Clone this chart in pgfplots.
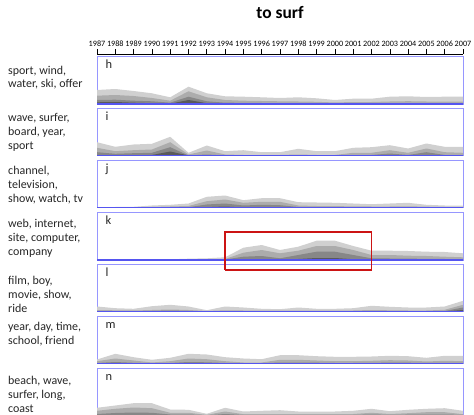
\documentclass[border=0pt]{standalone}
\usepackage{pgfplots}
\pgfplotsset{compat=1.18}
\usepackage{pgfplotstable}
\usepackage{fontspec}
\setmainfont{Carlito}
\definecolor{frameblue}{RGB}{150,150,255}
\definecolor{bottomblue}{RGB}{85,85,240}
\definecolor{layA}{RGB}{208,208,208}
\definecolor{layB}{RGB}{172,172,172}
\definecolor{layC}{RGB}{135,135,135}
\definecolor{layD}{RGB}{90,90,90}
\definecolor{redbox}{RGB}{204,20,20}

\pgfplotstableread{
year a b c d
1987 14 8.3 4 1.7
1988 15 9 4.3 2
1989 13 8 3.3 1.3
1990 10.7 6 2.7 0.8
1991 6.7 3.3 1.3 0.3
1992 17.3 12.7 7.3 4
1993 10.7 6.7 2.7 0.8
1994 7.7 4 1.3 0.3
1995 7.3 3.3 1.2 0.2
1996 6.7 3 1 0
1997 6 2.7 1 0
1998 6.7 2.5 0.8 0
1999 5.7 2.2 0.8 0
2000 4 1.5 0.5 0
2001 5.3 2 0.8 0
2002 5.3 2 0.8 0
2003 7.3 2.5 1 0
2004 7.7 2.8 1 0
2005 7 2.5 1 0
2006 7.3 2.5 1 0
2007 7.3 2.5 1 0
}\tabh

\pgfplotstableread{
year a b c d
1987 13.3 7.7 3.3 0.5
1988 8.7 4.3 1.7 0
1989 11 5.3 2.3 0
1990 11.7 6 2.7 0.5
1991 18.7 13.3 8.3 4
1992 2.7 1 0 0
1993 10 5 1 0
1994 4.3 1 0 0
1995 5.3 0.5 0 0
1996 3.3 0.5 0 0
1997 3.3 0.5 0 0
1998 6.7 1 0 0
1999 4.3 0.5 0 0
2000 4.3 0.5 0 0
2001 7.7 2.7 0.5 0
2002 8.3 2.7 0.5 0
2003 10.3 5.3 2 0
2004 7 2.7 0.5 0
2005 12 7 3.3 0
2006 8.7 3.3 0.5 0
2007 8.7 2.7 0.5 0
}\tabi

\pgfplotstableread{
year a b c d
1987 0.5 0 0 0
1988 0.5 0 0 0
1989 0.7 0 0 0
1990 2 0.5 0 0
1991 2.7 1 0 0
1992 4 1.5 0.3 0
1993 10.7 6.3 3 0.3
1994 12 8 4 1
1995 7.3 4.7 2 0
1996 9.3 5.7 2.7 0
1997 9.3 5.7 2.3 0
1998 5.3 2 0.5 0
1999 5 1.5 0.3 0
2000 4.7 1.3 0.3 0
2001 4 1.2 0.3 0
2002 3.3 1 0.3 0
2003 4 1 0.3 0
2004 4.7 1.2 0.3 0
2005 2.7 0.8 0 0
2006 2 0.5 0 0
2007 2 0.5 0 0
}\tabj

\pgfplotstableread{
year a b c d
1987 0 0 0 0
1988 0 0 0 0
1989 0 0 0 0
1990 0.3 0 0 0
1991 0.7 0.3 0 0
1992 1.3 0.5 0 0
1993 1.7 0.7 0.3 0
1994 2.7 1 0.5 0
1995 12.3 7.3 3.3 0.5
1996 15 10 4 1
1997 10 6.7 1.7 0
1998 13.3 9.3 5 1
1999 19.3 14 8.3 2
2000 19.3 14 8.3 2
2001 14 10 5 0.8
2002 9.3 5 1.7 0
2003 9.3 5 1.5 0
2004 9 4.3 1.3 0
2005 8.3 4 1.2 0
2006 8 3.3 1 0
2007 6.7 2.7 1 0
}\tabk

\pgfplotstableread{
year a b c d
1987 5 1.5 0.5 0
1988 3.3 1.2 0.3 0
1989 2.7 1 0.3 0
1990 5.3 1.5 0.5 0
1991 6.7 2 1 0
1992 5 1.5 0.5 0
1993 1.3 0.5 0 0
1994 5 1.2 0.3 0
1995 4 1 0.3 0
1996 2.7 0.8 0 0
1997 2.3 0.8 0 0
1998 4 1 0.3 0
1999 2.7 0.8 0 0
2000 2.7 0.8 0 0
2001 3.3 1 0.3 0
2002 5.7 1.5 0.5 0
2003 4.7 1.2 0.3 0
2004 4 1 0.3 0
2005 4 1 0.3 0
2006 5 1.7 0.5 0
2007 10.7 6.7 4 1.5
}\tabl

\pgfplotstableread{
year a b c d
1987 4 2.3 0.5 0
1988 9.7 5 1.5 0
1989 6.3 3 0.7 0
1990 3.7 1 0.2 0
1991 5.7 2.3 0.5 0
1992 9.7 5 1.5 0
1993 9 4.3 1.2 0
1994 6.3 2.3 0.5 0
1995 5 1 0.2 0
1996 4.3 1 0.2 0
1997 8.3 3.7 1 0
1998 8.3 3.7 1 0
1999 7.3 3 0.8 0
2000 6.7 2.3 0.5 0
2001 6.7 2.3 0.5 0
2002 7 2.7 0.7 0
2003 7.7 3.3 0.8 0
2004 7.3 3 0.8 0
2005 5.7 2 0.5 0
2006 7.7 2.7 0.7 0
2007 7.7 2.3 0.5 0
}\tabm

\pgfplotstableread{
year a b c d
1987 7.7 4.7 1.5 0
1988 10 6.7 2.5 0
1989 12.3 8 3 0
1990 12.3 7.3 2.7 0
1991 6 2.7 1 0
1992 5.7 2.7 1 0
1993 1.7 0.7 0.2 0
1994 7.7 4 1.5 0
1995 4 1.3 0.5 0
1996 4.7 1.5 0.5 0
1997 5.3 1.5 0.5 0
1998 4 1.3 0.5 0
1999 4 1.3 0.5 0
2000 4 1.3 0.5 0
2001 4.7 1.5 0.5 0
2002 6.7 2.7 1 0
2003 4.3 1.5 0.5 0
2004 5.7 2.3 0.8 0
2005 6.7 3.3 1 0
2006 7.3 3.3 1 0
2007 4.7 1.3 0.5 0
}\tabn

\pgfplotsset{
  panel/.style={width=366bp, height=47.5bp, scale only axis,
    xmin=1987, xmax=2007, ymin=0, ymax=47.5,
    xtick=\empty, ytick=\empty, clip=false,
    axis line style={draw=frameblue, line width=0.8bp},
    anchor=north west},
}
\newcommand{\layers}[1]{%
  \addplot[fill=layA, draw=none] table[x=year, y=a]{#1} \closedcycle;
  \addplot[fill=layB, draw=none] table[x=year, y=b]{#1} \closedcycle;
  \addplot[fill=layC, draw=none] table[x=year, y=c]{#1} \closedcycle;
  \addplot[fill=layD, draw=none] table[x=year, y=d]{#1} \closedcycle;
}
\newcommand{\bottomline}{%
  \addplot[draw=bottomblue, line width=1.3bp, mark=none] coordinates {(1987,0) (2007,0)};
}
\newcommand{\letter}[1]{%
  \node[anchor=base west, font=\fontsize{12.5}{12.5}\selectfont, text=black!85, xshift=5bp, yshift=-12bp] at (rel axis cs:0,1) {#1};
}

\begin{document}
\begin{tikzpicture}
\path (0,0) rectangle (474bp,-415bp);

% title
\node[font=\bfseries\fontsize{17.5}{17.5}\selectfont] at (280bp,-12.5bp) {to surf};

% top year axis
\begin{axis}[at={(97bp,-54.3bp)}, anchor=north west,
  width=366bp, height=10bp, scale only axis,
  xmin=1987, xmax=2007, ymin=0, ymax=1,
  axis x line=top, axis y line=none,
  x axis line style={-, black, line width=0.6bp},
  xtick={1987,1988,...,2007}, ytick=\empty,
  tick align=outside, major tick length=5bp,
  xtick style={black, line width=0.6bp},
  xticklabel style={font=\fontsize{8.2}{8.5}\selectfont, yshift=1bp, inner sep=1.5bp},
  /pgf/number format/assume math mode=true,
  /pgf/number format/1000 sep={}]
\end{axis}

% h
\begin{axis}[panel, at={(97bp,-56.5bp)}]
\layers{\tabh}\bottomline\letter{h}
\end{axis}
% i
\begin{axis}[panel, at={(97bp,-108bp)}]
\layers{\tabi}\bottomline\letter{i}
\end{axis}
% j
\begin{axis}[panel, at={(97bp,-160bp)}]
\layers{\tabj}\bottomline\letter{j}
\end{axis}
% k
\begin{axis}[panel, at={(97bp,-212.5bp)}]
\layers{\tabk}\bottomline\letter{k}
\end{axis}
% l
\begin{axis}[panel, at={(97bp,-264bp)}]
\layers{\tabl}\bottomline\letter{l}
\end{axis}
% m
\begin{axis}[panel, at={(97bp,-316bp)}]
\layers{\tabm}\bottomline\letter{m}
\end{axis}
% n
\begin{axis}[panel, at={(97bp,-368bp)}, height=49.5bp, ymin=-2]
\layers{\tabn}\letter{n}
\end{axis}

% red highlight box over panel k
\begin{axis}[panel, at={(97bp,-212.5bp)}, hide axis]
\addplot[draw=redbox, line width=1.3bp, mark=none, line join=miter] coordinates {(1994,-10) (2002,-10) (2002,28) (1994,28) (1994,-10)};
\end{axis}

% left labels
\begin{scope}[every node/.style={anchor=base west, inner sep=0pt, font=\fontsize{12}{12}\selectfont, text=black!85}]
\node at (8bp,-74bp) {sport, wind,};
\node at (8bp,-87bp) {water, ski, offer};
\node at (8bp,-121bp) {wave, surfer,};
\node at (8bp,-135bp) {board, year,};
\node at (8bp,-149bp) {sport};
\node at (8bp,-174bp) {channel,};
\node at (8bp,-188bp) {television,};
\node at (8bp,-202bp) {show, watch, tv};
\node at (8bp,-227bp) {web, internet,};
\node at (8bp,-241bp) {site, computer,};
\node at (8bp,-255bp) {company};
\node at (8bp,-284bp) {film, boy,};
\node at (8bp,-298bp) {movie, show,};
\node at (8bp,-312bp) {ride};
\node at (8bp,-330bp) {year, day, time,};
\node at (8bp,-344bp) {school, friend};
\node at (8bp,-384bp) {beach, wave,};
\node at (8bp,-398bp) {surfer, long,};
\node at (8bp,-412bp) {coast};
\end{scope}

\pgfresetboundingbox
\path[use as bounding box] (0,0) rectangle (474bp,-415bp);
\end{tikzpicture}
\end{document}
